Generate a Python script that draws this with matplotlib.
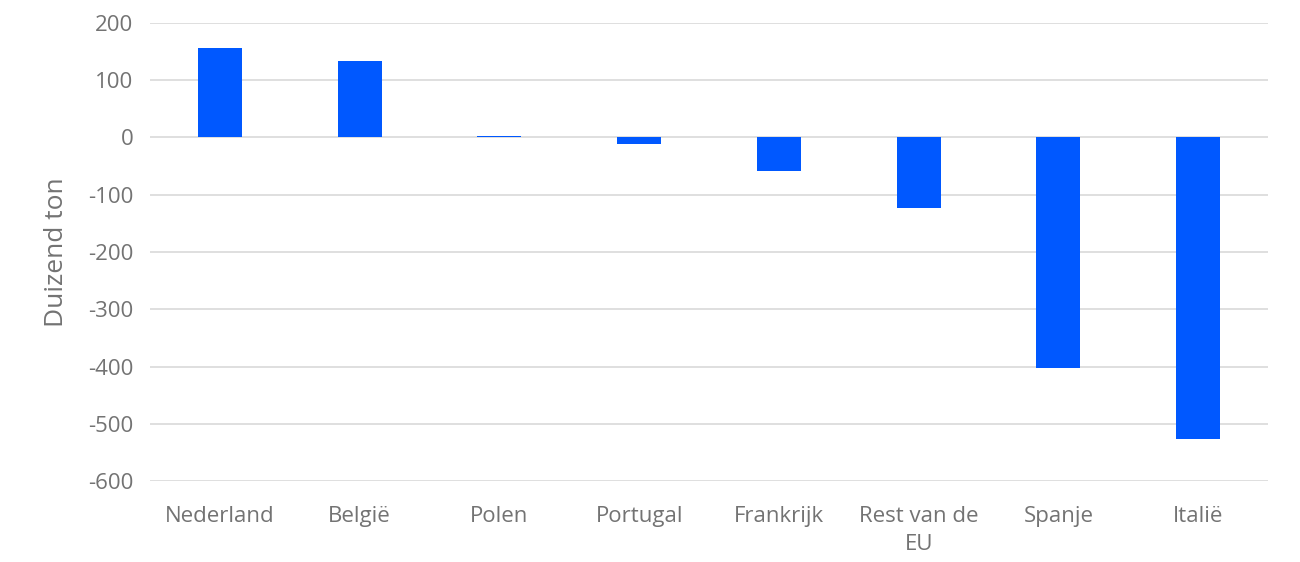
import matplotlib.pyplot as plt
import numpy as np

plt.rcParams['font.family'] = ['Open Sans', 'DejaVu Sans']
plt.rcParams['axes.unicode_minus'] = False

landen = ["Nederland", "België", "Polen", "Portugal", "Frankrijk",
          "Rest van de\nEU", "Spanje", "Italië"]
waarden = [156, 134, 2, -12, -58, -124, -402, -526]

fig = plt.figure(figsize=(13, 5.62), dpi=100)
ax = fig.add_axes([0.1154, 0.1441, 0.86, 0.815])

x = np.arange(len(landen))
ax.bar(x, waarden, width=0.315, color="#0058FF", zorder=3)

ax.set_ylim(-600, 200)
ax.set_xlim(-0.5, len(landen) - 0.5)
ax.set_yticks(np.arange(-600, 201, 100))
ax.set_xticks(x)
ax.set_xticklabels(landen, linespacing=1.45)
ax.grid(axis="y", color="#d9d9d9", linewidth=1.2, zorder=0)
for s in ax.spines.values():
    s.set_visible(False)
ax.tick_params(length=0, labelsize=16, colors="#737373")
ax.tick_params(axis="x", pad=18)
ax.tick_params(axis="y", pad=12)
ax.set_ylabel("Duizend ton", fontsize=19, color="#737373", labelpad=14)

fig.savefig("out.png", dpi=100)
